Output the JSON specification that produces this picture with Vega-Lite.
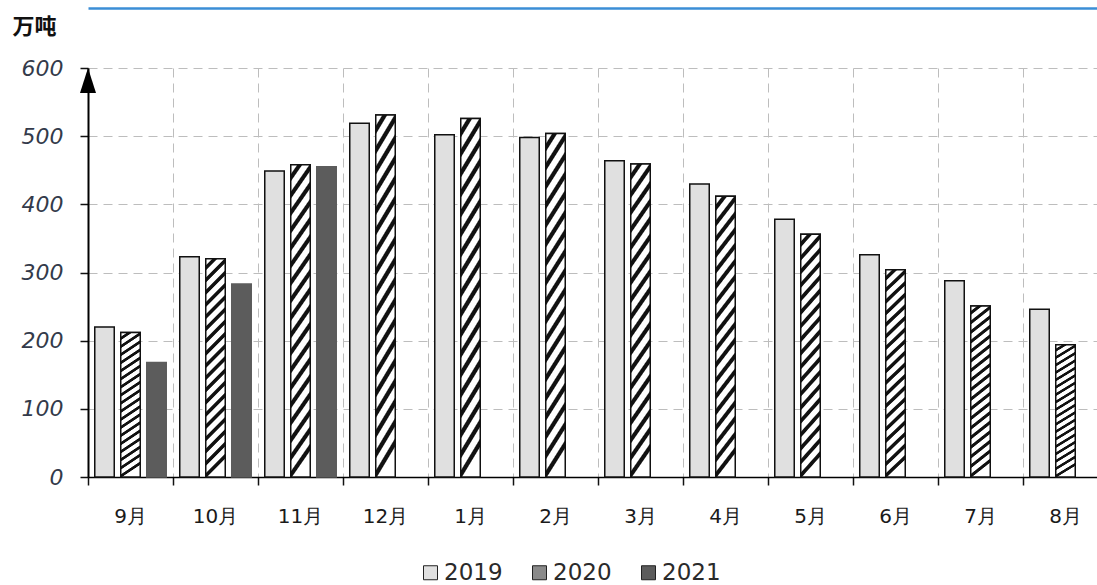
{
  "$schema": "https://vega.github.io/schema/vega-lite/v6.json",
  "autosize": "none",
  "width": 1009,
  "height": 409,
  "padding": {"left": 88, "top": 68, "right": 0, "bottom": 108},
  "background": "white",
  "config": {"view": {"stroke": null}, "font": "DejaVu Sans"},
  "data": {
    "values": [
      {"month": "9月", "year": "2019", "value": 220},
      {"month": "9月", "year": "2020", "value": 212},
      {"month": "9月", "year": "2021", "value": 168},
      {"month": "10月", "year": "2019", "value": 323},
      {"month": "10月", "year": "2020", "value": 320},
      {"month": "10月", "year": "2021", "value": 283},
      {"month": "11月", "year": "2019", "value": 449},
      {"month": "11月", "year": "2020", "value": 458},
      {"month": "11月", "year": "2021", "value": 455},
      {"month": "12月", "year": "2019", "value": 519},
      {"month": "12月", "year": "2020", "value": 531},
      {"month": "1月", "year": "2019", "value": 502},
      {"month": "1月", "year": "2020", "value": 526},
      {"month": "2月", "year": "2019", "value": 498},
      {"month": "2月", "year": "2020", "value": 504},
      {"month": "3月", "year": "2019", "value": 464},
      {"month": "3月", "year": "2020", "value": 459},
      {"month": "4月", "year": "2019", "value": 430},
      {"month": "4月", "year": "2020", "value": 412},
      {"month": "5月", "year": "2019", "value": 378},
      {"month": "5月", "year": "2020", "value": 356},
      {"month": "6月", "year": "2019", "value": 326},
      {"month": "6月", "year": "2020", "value": 304},
      {"month": "7月", "year": "2019", "value": 288},
      {"month": "7月", "year": "2020", "value": 251},
      {"month": "8月", "year": "2019", "value": 246},
      {"month": "8月", "year": "2020", "value": 194}
    ]
  },
  "layer": [
    {
      "mark": {"type": "bar", "strokeWidth": 1.5},
      "encoding": {
        "x": {
          "field": "month",
          "type": "nominal",
          "sort": ["9月", "10月", "11月", "12月", "1月", "2月", "3月", "4月", "5月", "6月", "7月", "8月"],
          "scale": {"range": [0, 1020], "paddingInner": 0, "paddingOuter": 0},
          "axis": {
            "title": null,
            "bandPosition": 0,
            "labelAngle": 0,
            "labelFont": "DejaVu Sans",
            "labelFontSize": 20,
            "labelColor": "#1a1a1a",
            "labelPadding": 21,
            "tickSize": 8,
            "tickColor": "#111111",
            "tickWidth": 1.5,
            "domainColor": "#000000",
            "domainWidth": 1.5,
            "grid": true,
            "gridColor": "#bdbdbd",
            "gridDash": [9, 6],
            "gridWidth": 1
          }
        },
        "xOffset": {
          "field": "year",
          "type": "nominal",
          "scale": {"domain": ["2019", "2020", "2021"], "paddingInner": 0.25, "paddingOuter": 0.26}
        },
        "y": {
          "field": "value",
          "type": "quantitative",
          "scale": {"domain": [0, 600], "nice": false},
          "axis": {
            "values": [0, 100, 200, 300, 400, 500, 600],
            "title": "万吨",
            "titleAngle": 0,
            "titleX": -76,
            "titleY": -42,
            "titleAlign": "left",
            "titleBaseline": "middle",
            "titleFont": "Noto Sans CJK SC",
            "titleFontSize": 22,
            "titleFontWeight": "bold",
            "titleColor": "#111111",
            "labelFont": "DejaVu Sans",
            "labelFontStyle": "italic",
            "labelFontSize": 22,
            "labelColor": "#333a4a",
            "labelPadding": 17,
            "tickSize": 8,
            "tickColor": "#111111",
            "tickWidth": 1.5,
            "domainColor": "#000000",
            "domainWidth": 2,
            "grid": true,
            "gridColor": "#bdbdbd",
            "gridDash": [9, 6],
            "gridWidth": 1
          }
        },
        "fill": {
          "field": "year",
          "type": "nominal",
          "scale": {"domain": ["2019", "2020", "2021"], "range": ["#e0e0e0", "#8a8a8a", "#5c5c5c"]},
          "legend": {
            "orient": "none",
            "legendX": 331,
            "legendY": 493,
            "direction": "horizontal",
            "title": null,
            "symbolType": "square",
            "symbolSize": 196,
            "symbolStrokeColor": "#222222",
            "symbolStrokeWidth": 1,
            "labelFont": "DejaVu Sans",
            "labelFontSize": 23,
            "labelColor": "#2a2a2a",
            "labelOffset": 2,
            "columnPadding": 25,
            "padding": 0
          }
        },
        "stroke": {
          "condition": {"test": "datum.year === '2021'", "value": "#5c5c5c"},
          "value": "#111111"
        }
      }
    },
    {
      "transform": [{"filter": "datum.year === '2020'"}],
      "mark": {
        "type": "bar",
        "stroke": "#111111",
        "strokeWidth": 1.5,
        "fill": {
          "gradient": "linear",
          "x1": 0, "y1": 0, "x2": 0.09, "y2": 1,
          "stops": [
            {"offset": 0, "color": "#ffffff"}, {"offset": 0.027, "color": "#ffffff"}, {"offset": 0.033, "color": "#111111"}, {"offset": 0.05, "color": "#111111"},
            {"offset": 0.0556, "color": "#ffffff"}, {"offset": 0.0826, "color": "#ffffff"}, {"offset": 0.0886, "color": "#111111"}, {"offset": 0.1056, "color": "#111111"},
            {"offset": 0.1111, "color": "#ffffff"}, {"offset": 0.1381, "color": "#ffffff"}, {"offset": 0.1441, "color": "#111111"}, {"offset": 0.1611, "color": "#111111"},
            {"offset": 0.1667, "color": "#ffffff"}, {"offset": 0.1937, "color": "#ffffff"}, {"offset": 0.1997, "color": "#111111"}, {"offset": 0.2167, "color": "#111111"},
            {"offset": 0.2222, "color": "#ffffff"}, {"offset": 0.2492, "color": "#ffffff"}, {"offset": 0.2552, "color": "#111111"}, {"offset": 0.2722, "color": "#111111"},
            {"offset": 0.2778, "color": "#ffffff"}, {"offset": 0.3048, "color": "#ffffff"}, {"offset": 0.3108, "color": "#111111"}, {"offset": 0.3278, "color": "#111111"},
            {"offset": 0.3333, "color": "#ffffff"}, {"offset": 0.3603, "color": "#ffffff"}, {"offset": 0.3663, "color": "#111111"}, {"offset": 0.3833, "color": "#111111"},
            {"offset": 0.3889, "color": "#ffffff"}, {"offset": 0.4159, "color": "#ffffff"}, {"offset": 0.4219, "color": "#111111"}, {"offset": 0.4389, "color": "#111111"},
            {"offset": 0.4444, "color": "#ffffff"}, {"offset": 0.4714, "color": "#ffffff"}, {"offset": 0.4774, "color": "#111111"}, {"offset": 0.4944, "color": "#111111"},
            {"offset": 0.5, "color": "#ffffff"}, {"offset": 0.527, "color": "#ffffff"}, {"offset": 0.533, "color": "#111111"}, {"offset": 0.55, "color": "#111111"},
            {"offset": 0.5556, "color": "#ffffff"}, {"offset": 0.5826, "color": "#ffffff"}, {"offset": 0.5886, "color": "#111111"}, {"offset": 0.6056, "color": "#111111"},
            {"offset": 0.6111, "color": "#ffffff"}, {"offset": 0.6381, "color": "#ffffff"}, {"offset": 0.6441, "color": "#111111"}, {"offset": 0.6611, "color": "#111111"},
            {"offset": 0.6667, "color": "#ffffff"}, {"offset": 0.6937, "color": "#ffffff"}, {"offset": 0.6997, "color": "#111111"}, {"offset": 0.7167, "color": "#111111"},
            {"offset": 0.7222, "color": "#ffffff"}, {"offset": 0.7492, "color": "#ffffff"}, {"offset": 0.7552, "color": "#111111"}, {"offset": 0.7722, "color": "#111111"},
            {"offset": 0.7778, "color": "#ffffff"}, {"offset": 0.8048, "color": "#ffffff"}, {"offset": 0.8108, "color": "#111111"}, {"offset": 0.8278, "color": "#111111"},
            {"offset": 0.8333, "color": "#ffffff"}, {"offset": 0.8603, "color": "#ffffff"}, {"offset": 0.8663, "color": "#111111"}, {"offset": 0.8833, "color": "#111111"},
            {"offset": 0.8889, "color": "#ffffff"}, {"offset": 0.9159, "color": "#ffffff"}, {"offset": 0.9219, "color": "#111111"}, {"offset": 0.9389, "color": "#111111"},
            {"offset": 0.9444, "color": "#ffffff"}, {"offset": 0.9714, "color": "#ffffff"}, {"offset": 0.9774, "color": "#111111"}, {"offset": 0.9944, "color": "#111111"},
            {"offset": 1, "color": "#ffffff"}
          ]
        }
      },
      "encoding": {
        "x": {
          "field": "month",
          "type": "nominal",
          "sort": ["9月", "10月", "11月", "12月", "1月", "2月", "3月", "4月", "5月", "6月", "7月", "8月"],
          "axis": {
            "orient": "top",
            "offset": 60,
            "title": null,
            "labels": false,
            "ticks": false,
            "grid": false,
            "domainColor": "#3b8ed6",
            "domainWidth": 2.5
          }
        },
        "xOffset": {"field": "year", "type": "nominal"},
        "y": {"field": "value", "type": "quantitative", "axis": null}
      }
    },
    {
      "data": {"values": [{}]},
      "mark": {
        "type": "point",
        "shape": "M0,0L0.8,2.5L-0.8,2.5Z",
        "size": 400,
        "filled": true,
        "fill": "#000000",
        "opacity": 1
      },
      "encoding": {
        "x": {"datum": "9月", "bandPosition": 0, "axis": null},
        "y": {"datum": 600, "axis": null}
      }
    }
  ],
  "resolve": {"axis": {"x": "independent", "y": "independent"}}
}
